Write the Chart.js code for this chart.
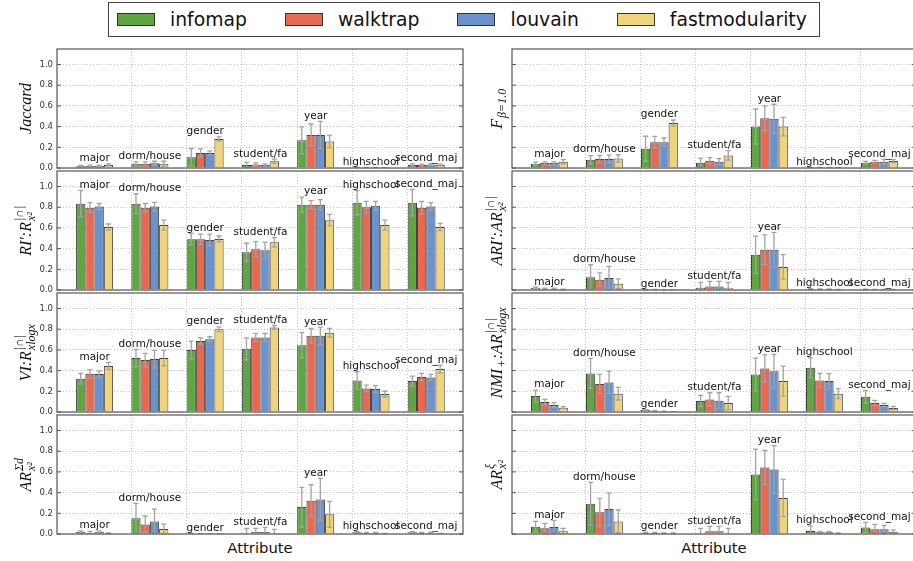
<!DOCTYPE html>
<html>
<head>
<meta charset="utf-8">
<script src="https://cdn.jsdelivr.net/npm/chart.js@4.4.0/dist/chart.umd.min.js"></script>
<style>
  body { margin: 0; background: #fff; }
  #page { position: relative; width: 913px; height: 561px; overflow: hidden; font-family: "DejaVu Sans"; color: #111; }
  canvas { position: absolute; }
  #legend { position: absolute; left: 108px; top: 2px; width: 712px; height: 35px; border: 1px solid #444;
            box-sizing: border-box; display: flex; align-items: center; padding-left: 8px; font-size: 18.8px; }
  .item { display: flex; align-items: center; margin-right: 38px; }
  .sw { width: 38px; height: 13px; border: 1px solid #333; box-sizing: border-box; margin-right: 15px; }
  .xlab { position: absolute; top: 539px; font-size: 14.8px; transform: translateX(-50%); }
</style>
</head>
<body>
<div id="page">
  <div id="legend"></div>
  <div class="xlab" style="left:260px">Attribute</div>
  <div class="xlab" style="left:714px">Attribute</div>
</div>
<script>
const categories = ['major', 'dorm/house', 'gender', 'student/fa', 'year', 'highschool', 'second_maj'];
const methods = ['infomap', 'walktrap', 'louvain', 'fastmodularity'];
const colors = ['#5fa642', '#e8694f', '#6a92cc', '#f0d47c'];

// rows: infomap, walktrap, louvain, fastmodularity
const jaccardMean = [
  [0.016, 0.04, 0.105, 0.03, 0.267, 0.002, 0.03],
  [0.02, 0.04, 0.145, 0.035, 0.32, 0.002, 0.03],
  [0.02, 0.045, 0.145, 0.03, 0.32, 0.002, 0.035],
  [0.03, 0.04, 0.28, 0.065, 0.257, 0.001, 0.03]];
const jaccardErr = [
  [0.008, 0.02, 0.085, 0.025, 0.13, 0.003, 0.01],
  [0.008, 0.02, 0.04, 0.015, 0.105, 0.003, 0.008],
  [0.008, 0.02, 0.02, 0.01, 0.13, 0.003, 0.01],
  [0.01, 0.025, 0.02, 0.02, 0.06, 0.002, 0.008]];

const fbetaMean = [
  [0.042, 0.08, 0.187, 0.051, 0.40, 0.003, 0.051],
  [0.048, 0.087, 0.25, 0.07, 0.48, 0.003, 0.061],
  [0.048, 0.087, 0.25, 0.061, 0.476, 0.003, 0.061],
  [0.061, 0.093, 0.434, 0.122, 0.40, 0.002, 0.068]];
const fbetaErr = [
  [0.015, 0.04, 0.12, 0.045, 0.17, 0.003, 0.012],
  [0.012, 0.035, 0.055, 0.03, 0.12, 0.003, 0.012],
  [0.012, 0.04, 0.04, 0.03, 0.14, 0.003, 0.025],
  [0.02, 0.035, 0.03, 0.045, 0.09, 0.002, 0.015]];

const riMean = [
  [0.834, 0.834, 0.49, 0.366, 0.825, 0.844, 0.844],
  [0.796, 0.796, 0.49, 0.395, 0.825, 0.80, 0.796],
  [0.806, 0.806, 0.484, 0.385, 0.825, 0.815, 0.806],
  [0.608, 0.627, 0.494, 0.462, 0.675, 0.627, 0.608]];
const riErr = [
  [0.128, 0.096, 0.057, 0.086, 0.073, 0.117, 0.127],
  [0.048, 0.04, 0.05, 0.073, 0.038, 0.057, 0.06],
  [0.03, 0.04, 0.056, 0.077, 0.048, 0.042, 0.038],
  [0.03, 0.048, 0.028, 0.044, 0.055, 0.048, 0.035]];

const ariMean = [
  [0.022, 0.124, 0.004, 0.022, 0.341, 0.01, 0.006],
  [0.013, 0.099, 0.003, 0.035, 0.389, 0.008, 0.005],
  [0.013, 0.115, 0.002, 0.035, 0.389, 0.008, 0.005],
  [0.006, 0.06, 0.001, 0.022, 0.223, 0.004, 0.003]];
const ariErr = [
  [0.005, 0.12, 0.002, 0.051, 0.18, 0.004, 0.003],
  [0.004, 0.067, 0.002, 0.048, 0.143, 0.003, 0.002],
  [0.004, 0.114, 0.001, 0.048, 0.168, 0.003, 0.002],
  [0.003, 0.048, 0.001, 0.051, 0.118, 0.002, 0.002]];

const viMean = [
  [0.322, 0.521, 0.598, 0.611, 0.646, 0.305, 0.299],
  [0.37, 0.502, 0.685, 0.72, 0.736, 0.228, 0.338],
  [0.367, 0.511, 0.704, 0.72, 0.736, 0.222, 0.334],
  [0.444, 0.521, 0.80, 0.817, 0.765, 0.174, 0.415]];
const viErr = [
  [0.05, 0.084, 0.087, 0.106, 0.122, 0.084, 0.048],
  [0.04, 0.064, 0.032, 0.039, 0.071, 0.032, 0.035],
  [0.03, 0.084, 0.023, 0.039, 0.084, 0.032, 0.029],
  [0.035, 0.074, 0.023, 0.019, 0.042, 0.029, 0.038]];

const nmiMean = [
  [0.154, 0.373, 0.019, 0.106, 0.363, 0.428, 0.148],
  [0.096, 0.27, 0.013, 0.122, 0.421, 0.305, 0.087],
  [0.068, 0.286, 0.006, 0.109, 0.395, 0.299, 0.068],
  [0.042, 0.177, 0.003, 0.087, 0.299, 0.177, 0.039]];
const nmiErr = [
  [0.058, 0.145, 0.004, 0.054, 0.158, 0.096, 0.061],
  [0.026, 0.093, 0.003, 0.064, 0.132, 0.068, 0.026],
  [0.022, 0.109, 0.002, 0.077, 0.161, 0.071, 0.016],
  [0.01, 0.061, 0.001, 0.064, 0.145, 0.048, 0.016]];

const sumdMean = [
  [0.019, 0.151, 0.004, 0.003, 0.26, 0.016, 0.016],
  [0.013, 0.093, 0.002, 0.019, 0.322, 0.01, 0.01],
  [0.019, 0.122, 0.001, 0.019, 0.334, 0.01, 0.013],
  [0.006, 0.048, 0.001, 0.001, 0.19, 0.003, 0.003]];
const sumdErr = [
  [0.01, 0.145, 0.003, 0.05, 0.19, 0.008, 0.006],
  [0.012, 0.081, 0.002, 0.036, 0.154, 0.005, 0.005],
  [0.008, 0.119, 0.001, 0.045, 0.203, 0.005, 0.005],
  [0.004, 0.048, 0.001, 0.044, 0.125, 0.003, 0.003]];

const xiMean = [
  [0.071, 0.293, 0.013, 0.006, 0.576, 0.029, 0.064],
  [0.055, 0.209, 0.01, 0.026, 0.643, 0.016, 0.045],
  [0.068, 0.241, 0.006, 0.026, 0.624, 0.016, 0.045],
  [0.026, 0.122, 0.006, 0.003, 0.347, 0.006, 0.019]];
const xiErr = [
  [0.051, 0.205, 0.006, 0.049, 0.244, 0.048, 0.049],
  [0.048, 0.135, 0.005, 0.048, 0.164, 0.01, 0.048],
  [0.064, 0.154, 0.004, 0.048, 0.231, 0.01, 0.039],
  [0.029, 0.11, 0.004, 0.052, 0.18, 0.005, 0.02]];

const yTicks = [0, 0.2, 0.4, 0.6, 0.8, 1.0];

const panels = [
  { mean: jaccardMean, err: jaccardErr, col: 0, row: 0, label: [{ t: 'Jaccard' }] },
  { mean: fbetaMean, err: fbetaErr, col: 1, row: 0, label: [{ t: 'F' }, { sub: 'β=1.0' }] },
  { mean: riMean, err: riErr, col: 0, row: 1, label: [{ t: 'RI′:R' }, { sub: 'x²', sup: '|∩|' }] },
  { mean: ariMean, err: ariErr, col: 1, row: 1, label: [{ t: 'ARI′:AR' }, { sub: 'x²', sup: '|∩|' }] },
  { mean: viMean, err: viErr, col: 0, row: 2, label: [{ t: 'VI:R' }, { sub: 'xlogx', sup: '|∩|' }] },
  { mean: nmiMean, err: nmiErr, col: 1, row: 2, label: [{ t: 'NMI' }, { sub: '+' }, { t: ':AR' }, { sub: 'xlogx', sup: '|∩|' }] },
  { mean: sumdMean, err: sumdErr, col: 0, row: 3, label: [{ t: 'AR' }, { sub: 'x²', sup: 'Σd' }] },
  { mean: xiMean, err: xiErr, col: 1, row: 3, label: [{ t: 'AR' }, { sub: 'x²', sup: 'ξ' }] }
];

const GROUP_OFFSET = 0.335;

// legend
const legend = document.getElementById('legend');
methods.forEach((m, i) => {
  const it = document.createElement('div');
  it.className = 'item';
  it.innerHTML = '<div class="sw" style="background:' + colors[i] + '"></div><span>' + m + '</span>';
  legend.appendChild(it);
});

function drawMath(ctx, tokens, x, y) {
  const big = 'italic 16px "Liberation Serif"';
  const small = 'italic 12px "Liberation Serif"';
  const widths = tokens.map(tk => {
    if (tk.t) { ctx.font = big; return ctx.measureText(tk.t).width; }
    ctx.font = small;
    const a = tk.sub ? ctx.measureText(tk.sub).width : 0;
    const b = tk.sup ? ctx.measureText(tk.sup).width : 0;
    return Math.max(a, b) + 1.5;
  });
  const total = widths.reduce((a, b) => a + b, 0);
  ctx.save();
  ctx.translate(x, y);
  ctx.rotate(-Math.PI / 2);
  ctx.fillStyle = '#111';
  ctx.textAlign = 'left';
  ctx.textBaseline = 'alphabetic';
  let cx = -total / 2;
  tokens.forEach((tk, k) => {
    if (tk.t) {
      ctx.font = big;
      ctx.fillText(tk.t, cx, 0);
    } else {
      ctx.font = small;
      if (tk.sub) ctx.fillText(tk.sub, cx + 1, 4);
      if (tk.sup) ctx.fillText(tk.sup, cx + 1, -8);
    }
    cx += widths[k];
  });
  ctx.restore();
}

const panelPlugin = {
  id: 'panelPlugin',
  afterDatasetsDraw(chart) {
    const { ctx, chartArea: a, scales } = chart;
    const xs = scales.x, ys = scales.y;
    const ds = chart.data.datasets;

    // error bars
    ctx.save();
    ctx.beginPath();
    ctx.rect(a.left, a.top, a.right - a.left, a.bottom - a.top);
    ctx.clip();
    ctx.strokeStyle = '#a3a3a3';
    ctx.lineWidth = 1.3;
    ds.forEach((d, di) => {
      chart.getDatasetMeta(di).data.forEach((bar, j) => {
        const v = d.data[j].y, e = d.err[j];
        const top = ys.getPixelForValue(v + e);
        const bot = ys.getPixelForValue(v - e);
        ctx.beginPath();
        ctx.moveTo(bar.x, top); ctx.lineTo(bar.x, bot);
        ctx.moveTo(bar.x - 2.5, top); ctx.lineTo(bar.x + 2.5, top);
        ctx.moveTo(bar.x - 2.5, bot); ctx.lineTo(bar.x + 2.5, bot);
        ctx.stroke();
      });
    });
    ctx.restore();

    // category names above each group
    ctx.save();
    ctx.font = '10.5px "DejaVu Sans"';
    ctx.fillStyle = '#111';
    ctx.textAlign = 'center';
    ctx.textBaseline = 'alphabetic';
    categories.forEach((c, i) => {
      let top = 0;
      ds.forEach(d => { top = Math.max(top, d.data[i].y + d.err[i]); });
      ctx.fillText(c, xs.getPixelForValue(i + GROUP_OFFSET), ys.getPixelForValue(top + 0.025));
    });
    ctx.restore();
  },
  afterDraw(chart, args, opts) {
    const { ctx, chartArea: a, scales } = chart;
    ctx.save();
    ctx.strokeStyle = '#555';
    ctx.lineWidth = 1.2;
    ctx.strokeRect(a.left, a.top, a.right - a.left, a.bottom - a.top);
    ctx.lineWidth = 1;
    yTicks.forEach(v => {
      const y = scales.y.getPixelForValue(v);
      ctx.beginPath();
      ctx.moveTo(a.left, y); ctx.lineTo(a.left + 4, y);
      ctx.moveTo(a.right, y); ctx.lineTo(a.right - 4, y);
      ctx.stroke();
    });
    ctx.restore();
    drawMath(ctx, opts.label, a.left - opts.labelGap, (a.top + a.bottom) / 2);
  }
};

const page = document.getElementById('page');
panels.forEach(p => {
  const cv = document.createElement('canvas');
  const left = p.col === 0 ? 0 : 463;
  const w = p.col === 0 ? 464 : 454;
  const h = 143;
  cv.width = w; cv.height = h;
  cv.style.left = left + 'px';
  cv.style.top = (37 + 122 * p.row) + 'px';
  page.appendChild(cv);

  const datasets = methods.map((m, k) => ({
    label: m,
    data: categories.map((c, i) => ({ x: i + GROUP_OFFSET, y: p.mean[k][i] })),
    err: p.err[k],
    backgroundColor: colors[k],
    borderColor: 'rgba(30,30,30,0.85)',
    borderWidth: 1
  }));

  new Chart(cv, {
    type: 'bar',
    data: { datasets },
    options: {
      responsive: false,
      animation: false,
      events: [],
      categoryPercentage: 0.67,
      barPercentage: 1.0,
      layout: { padding: { top: 12, bottom: 12, left: 0, right: 1 } },
      plugins: {
        legend: { display: false },
        tooltip: { enabled: false },
        panelPlugin: { label: p.label, labelGap: p.col === 0 ? 26 : 10 }
      },
      scales: {
        x: {
          type: 'linear',
          min: -0.345,
          max: 7,
          offset: false,
          afterFit: s => { s.height = 0; },
          ticks: { display: false, stepSize: 1, includeBounds: false },
          grid: {
            offset: false,
            drawTicks: false,
            color: c => (c.tick && (c.tick.value === 0 || c.tick.value === 7)) ? 'rgba(0,0,0,0)' : '#c4c4c4'
          },
          border: { display: false, dash: [1, 2] }
        },
        y: {
          min: 0,
          max: 1.15,
          afterFit: s => { s.width = p.col === 0 ? 57 : 49; },
          afterBuildTicks: s => { s.ticks = yTicks.map(v => ({ value: v })); },
          ticks: {
            display: p.col === 0,
            padding: 4,
            color: '#333',
            font: { family: 'DejaVu Sans', size: 8.5 },
            callback: v => v.toFixed(1)
          },
          grid: { drawTicks: false, color: '#c4c4c4' },
          border: { display: false, dash: [1, 2] }
        }
      }
    },
    plugins: [panelPlugin]
  });
});
</script>
</body>
</html>
